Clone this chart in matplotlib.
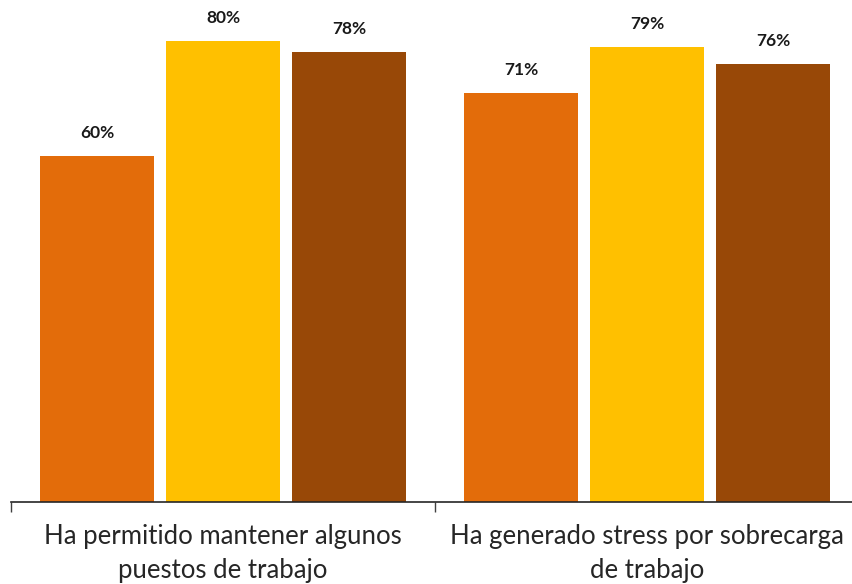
import matplotlib.pyplot as plt
import numpy as np

# Data
CATEGORIES = ['Ha permitido mantener algunos\npuestos de trabajo',
              'Ha generado stress por sobrecarga\nde trabajo']
SERIES_1 = [60, 71]
SERIES_2 = [80, 79]
SERIES_3 = [78, 76]
COLORS = ['#E36C0A', '#FFC000', '#984807']

plt.rcParams['font.family'] = ['Lato', 'DejaVu Sans']

fig = plt.figure(figsize=(8.52, 5.84), dpi=100)
ax = fig.add_axes([11 / 852, 82 / 584, 848 / 852, 502 / 584])

x = np.arange(len(CATEGORIES))
width = 0.269
offset = 0.297
for i, (vals, color) in enumerate(zip([SERIES_1, SERIES_2, SERIES_3], COLORS)):
    pos = x + (i - 1) * offset
    ax.bar(pos, vals, width=width, color=color)
    for px, v in zip(pos, vals):
        ax.text(px, v + 2.6, f'{v}%', ha='center', va='bottom',
                fontsize=12.5, fontweight='bold', color='#1a1a1a')

ax.set_xlim(-0.5, 1.5)
ax.set_ylim(0, 87.1)
ax.set_yticks([])
for s in ['top', 'right', 'left']:
    ax.spines[s].set_visible(False)
ax.spines['bottom'].set_color('#262626')
ax.spines['bottom'].set_linewidth(1.2)

ax.set_xticks(x)
ax.set_xticklabels(CATEGORIES, fontsize=18.5, color='#262626', linespacing=1.45)
ax.tick_params(axis='x', which='major', length=0, pad=16)
ax.set_xticks([-0.5, 0.5, 1.5], minor=True)
ax.tick_params(axis='x', which='minor', length=7, width=1, color='#404040',
               direction='out')

fig.savefig('out.png', dpi=100)
